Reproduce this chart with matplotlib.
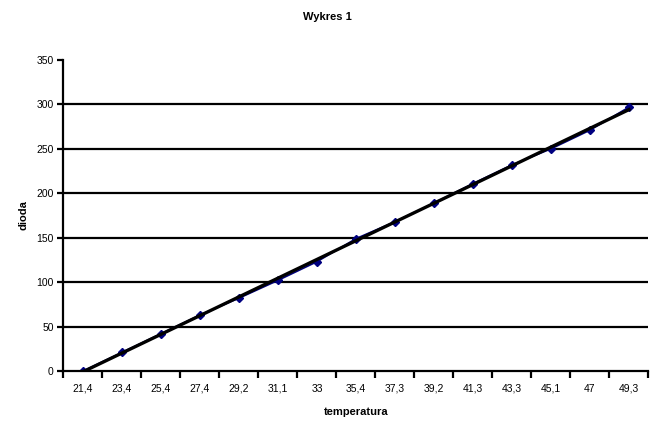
import numpy as np
import matplotlib.pyplot as plt

plt.rcParams['font.family'] = ['Liberation Sans', 'DejaVu Sans']

# dane
temperatura = ["21,4", "23,4", "25,4", "27,4", "29,2", "31,1", "33", "35,4",
               "37,3", "39,2", "41,3", "43,3", "45,1", "47", "49,3"]
dioda = [0, 21, 42, 63, 82, 102, 123, 149, 168, 189, 211, 232, 250, 271, 297]

fig = plt.figure(figsize=(6.62, 4.37), dpi=100)
ax = fig.add_axes([0.0959, 0.151, 0.8837, 0.7117])

x = np.arange(len(temperatura))

# linie siatki
for v in range(50, 350, 50):
    ax.axhline(v, color='black', lw=1.6, zorder=1)

ax.plot(x, dioda, color='#000080', lw=1.2, marker='D', markersize=4,
        markerfacecolor='#000080', markeredgecolor='#000080', zorder=2)

# linia trendu (liniowa)
a, b = np.polyfit(x, dioda, 1)
ax.plot(x, a * x + b, color='black', lw=2.4, zorder=3)

ax.set_xlim(-0.5, len(temperatura) - 0.5)
ax.set_ylim(0, 350)
ax.set_yticks(range(0, 351, 50))
ax.set_xticks(x)
ax.set_xticklabels(temperatura)
ax.set_xticks(np.arange(-0.5, len(temperatura), 1), minor=True)
ax.tick_params(axis='x', which='major', length=0, pad=9, labelsize=7.5)
ax.tick_params(axis='x', which='minor', length=5, width=1.6, direction='out')
ax.tick_params(axis='y', length=4, width=1.6, labelsize=7.5, pad=3)

ax.spines['top'].set_visible(False)
ax.spines['right'].set_visible(False)
ax.spines['left'].set_linewidth(1.6)
ax.spines['bottom'].set_linewidth(1.6)

ax.set_xlabel("temperatura", fontsize=8, fontweight='bold', labelpad=10)
ax.set_ylabel("dioda", fontsize=8, fontweight='bold', labelpad=6)
fig.text(0.494, 0.96, "Wykres 1", ha='center', va='center', fontsize=8,
         fontweight='bold')

fig.savefig("out.png", dpi=100)
